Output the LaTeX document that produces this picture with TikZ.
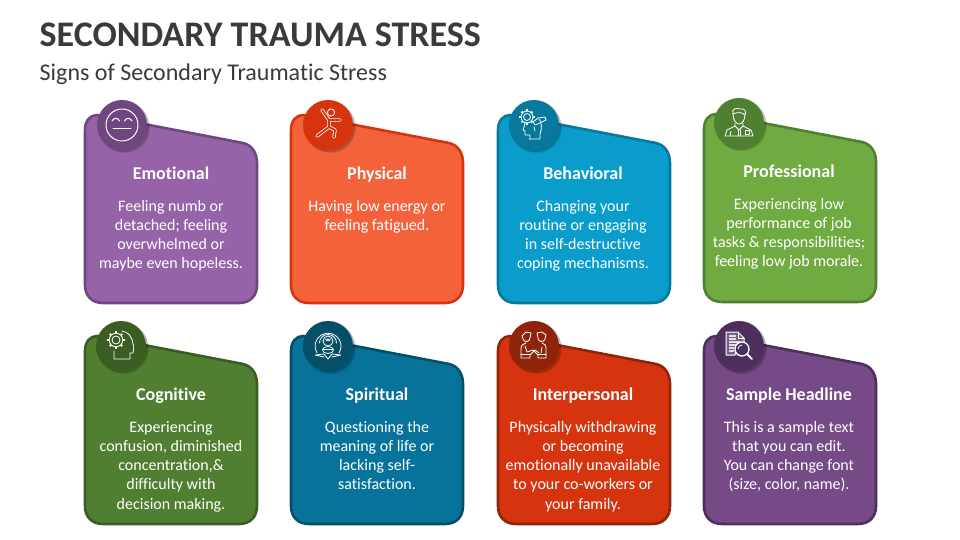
\documentclass[tikz,border=0pt]{standalone}
\usepackage{fontspec}
\setmainfont{Carlito}[Ligatures=NoCommon]
\usetikzlibrary{calc}
\definecolor{purA}{HTML}{9763A8}\definecolor{purB}{HTML}{6F4680}
\definecolor{oraA}{HTML}{F4623C}\definecolor{oraB}{HTML}{D5340F}
\definecolor{bluA}{HTML}{0A9DCB}\definecolor{bluB}{HTML}{08789C}
\definecolor{greA}{HTML}{6FAB40}\definecolor{greB}{HTML}{4F7F30}
\definecolor{dgrA}{HTML}{507F31}\definecolor{dgrB}{HTML}{3A5D22}
\definecolor{teaA}{HTML}{08739A}\definecolor{teaB}{HTML}{064F68}
\definecolor{redA}{HTML}{D5340F}\definecolor{redB}{HTML}{8E240A}
\definecolor{vioA}{HTML}{754A86}\definecolor{vioB}{HTML}{4C2F5C}
\definecolor{inkc}{HTML}{3A3A3A}
\tikzset{
  cardshape/.style={line width=2.6pt,line join=round},
  badge/.style={circle,minimum size=50pt,inner sep=0pt,outer sep=0pt},
  heading/.style={text=white,font=\fontsize{18}{21.6}\selectfont\bfseries,anchor=base},
  bodytext/.style={text=white,font=\fontsize{16}{19.2}\selectfont,align=center,anchor=north,inner sep=0pt},
  iconline/.style={draw=white,line width=.8pt,line cap=round,line join=round},
}
\newcommand{\cardbox}[4]{%
  \begin{scope}[shift={(#1,#2)}]
    \draw[cardshape,fill=#3,draw=#4] (0,15) .. controls (0,6) and (5,0) .. (12,0) -- (158,28)
      .. controls (167,30) and (172,38) .. (172,48) -- (172,170)
      .. controls (172,181) and (165,188) .. (154,188) -- (18,188)
      .. controls (7,188) and (0,181) .. (0,170) -- cycle;
  \end{scope}}
\newcommand{\badgeat}[4]{%
  \foreach \o/\r in {1/26,2/25.5,3/25}{\fill[black,opacity=.09] (#2+\o,#3+\o) circle (\r);}
  \node[badge,fill=#4] (#1) at (#2,#3) {};}
\newcommand{\gearicon}[3]{%
  \draw[iconline] (#1,#2) circle (#3*.5);
  \draw[iconline] (#1,#2) circle (#3*.85);
  \foreach \a in {0,45,...,315}{\draw[white,line width=1.8pt] ($(#1,#2)+(\a:#3*.85)$) -- ($(#1,#2)+(\a:#3*1.1)$);}}
\begin{document}
\begin{tikzpicture}[x=1pt,y=-1pt]
\useasboundingbox (0,0) rectangle (960,540);
\fill[white] (0,0) rectangle (960,540);
\node[anchor=base west,inner sep=0pt,text=inkc,font=\fontsize{36}{40}\selectfont\bfseries] (ttl) at (39.5,47) {SECONDARY TRAUMA STRESS};
\node[anchor=base west,inner sep=0pt,text=inkc,font=\fontsize{24}{28}\selectfont] (sub) at (39.5,81) {Signs of Secondary Traumatic Stress};

\cardbox{85}{115}{purA}{purB}
\cardbox{291}{115}{oraA}{oraB}
\cardbox{498}{115}{bluA}{bluB}
\cardbox{704}{114}{greA}{greB}
\cardbox{85}{336}{dgrA}{dgrB}
\cardbox{291}{336}{teaA}{teaB}
\cardbox{498}{336}{redA}{redB}
\cardbox{704}{336}{vioA}{vioB}

\badgeat{bEmo}{122}{125}{purB}
\badgeat{bPhy}{328}{125}{oraB}
\badgeat{bBeh}{534}{125}{bluB}
\badgeat{bPro}{739}{123}{greB}
\badgeat{bCog}{121}{346}{dgrB}
\badgeat{bSpi}{328}{346}{teaB}
\badgeat{bInt}{534}{346}{redB}
\badgeat{bSam}{739}{346}{vioB}

% Emotional
\begin{scope}[shift={(bEmo.center)}]
  \draw[iconline,line width=1pt] (0,0) circle (16);
  \draw[iconline,line width=1pt] (-10,-4) .. controls (-8,-7.5) and (-4,-7.5) .. (-2.5,-4);
  \draw[iconline,line width=1pt] (2.5,-4) .. controls (4,-7.5) and (8,-7.5) .. (10,-4);
  \draw[iconline,line width=1pt] (-9,4) -- (9,4);
\end{scope}
% Physical
\begin{scope}[shift={(bPhy.center)}]
  \draw[iconline] (3,-12.5) circle (3.6);
  \draw[white,line width=3.4pt,line cap=round,line join=round] (-6,-15) -- (1,-5) -- (12,-5);
  \draw[white,line width=3.4pt,line cap=round,line join=round] (1,-5) -- (1,2) -- (-11,11);
  \draw[white,line width=3.4pt,line cap=round,line join=round] (1,2) -- (7,5) -- (6,12);
  \draw[oraB,line width=1.8pt,line cap=round,line join=round] (-6,-15) -- (1,-5) -- (12,-5);
  \draw[oraB,line width=1.8pt,line cap=round,line join=round] (1,-5) -- (1,2) -- (-11,11);
  \draw[oraB,line width=1.8pt,line cap=round,line join=round] (1,2) -- (7,5) -- (6,12);
\end{scope}
% Behavioral
\begin{scope}[shift={(bBeh.center)}]
  \gearicon{-7}{-8}{7}
  \draw[iconline] (-5,14) -- (6,14) -- (6,9) .. controls (8,4) and (8,-3) .. (5,-6);
  \draw[iconline] (-9,-3) .. controls (-10,0) and (-9,2) .. (-11,5) -- (-9,6) -- (-9,10) -- (-4,10) -- (-4,14);
  \draw[iconline] (-1,-3) -- (4,-7) -- (11,-8) -- (12,-5) -- (6,-2) -- (1,0) -- cycle;
  \draw[iconline] (0,2) -- (1,6);
\end{scope}
% Professional
\begin{scope}[shift={(bPro.center)}]
  \draw[iconline] (-6,-9) .. controls (-8,-15) and (-2,-15) .. (1,-14) .. controls (5,-15) and (8,-12) .. (6,-8)
     .. controls (3,-11) and (-2,-11) .. (-6,-9) -- cycle;
  \draw[iconline] (-6,-9) .. controls (-6,-3) and (-3,1) .. (0,1) .. controls (3,1) and (6,-3) .. (6,-8);
  \draw[iconline] (-4,0) -- (-4,3) -- (-12,7) -- (-14,13) -- (14,13) -- (12,7) -- (4,3) -- (4,0);
  \draw[iconline] (-4,3) -- (0,7) -- (4,3);
  \draw[iconline] (-1,7) -- (-1,13) (1,7) -- (1,13);
  \draw[iconline] (-9,13) -- (-8,8);
  \draw[iconline] (6,7) rectangle (10,11);
\end{scope}
% Cognitive
\begin{scope}[shift={(bCog.center)}]
  \gearicon{-5}{-6}{8}
  \draw[iconline] (-7,5) -- (-7,13) -- (9,13) -- (9,7) -- (12,7) .. controls (12,3) and (14,2) .. (12,-2)
     .. controls (11,-10) and (7,-14) .. (1,-15);
\end{scope}
% Spiritual
\begin{scope}[shift={(bSpi.center)}]
  \draw[iconline] (-11,7) arc[start angle=148,end angle=392,radius=13];
  \draw[iconline] (-8.5,-3) arc[start angle=180,end angle=360,radius=8.5];
  \draw[iconline] (0,-5) circle (5);
  \draw[iconline] (-2.5,-7) -- (-1,-5) -- (0,-7.5) -- (1,-5) -- (2.5,-7);
  \draw[iconline] (0,4) ellipse (5.5 and 3.5);
  \draw[iconline] (-5,3.5) -- (5,3.5);
  \draw[iconline] (-13,9) -- (-4,8) -- (0,13) -- (4,8) -- (13,9) -- (4,11) (-13,9) -- (-4,11);
\end{scope}
% Interpersonal
\begin{scope}[shift={(bInt.center)}]
  \draw[iconline] (-12,-10) -- (-8,-14) -- (-3,-13) -- (-4,-8) .. controls (-4,-4) and (-10,-3) .. (-11,-7) -- cycle;
  \draw[iconline] (3,-13) -- (8,-14) -- (12,-11) -- (11,-7) .. controls (10,-3) and (4,-4) .. (4,-8) -- cycle;
  \draw[iconline] (-8,-3) .. controls (-11,-2) and (-13,-1) .. (-13,3) -- (-13,12) -- (-4,12) -- (-4,9) -- (1,4) -- (5,7);
  \draw[iconline] (8,-3) .. controls (11,-2) and (12,-1) .. (12,3) -- (12,12) -- (4,12) -- (4,9) -- (-1,4) -- (-7,6) -- (-9,0);
  \draw[iconline] (-13,8) -- (-4,8) (4,8) -- (12,8);
  \draw[iconline] (7,7) -- (8,1);
\end{scope}
% Sample
\begin{scope}[shift={(bSam.center)}]
  \draw[iconline,line width=1pt,fill=white,fill opacity=.25] (-13,-14) -- (-1,-14) -- (5,-8) -- (5,-2) -- (-2,3) -- (-4,9) -- (-13,9) -- cycle;
  \draw[iconline] (-1,-14) -- (-1,-8) -- (5,-8);
  \draw[white,line width=1.2pt,opacity=.8] (-10,-10) -- (-3,-10) (-10,-7) -- (-3,-7) (-10,-4) -- (1,-4) (-10,-1) -- (-3,-1) (-10,2) -- (-5,2) (-10,5) -- (-5,5);
  \draw[iconline,line width=1.3pt,fill=vioB] (3,3) circle (7);
  \draw[white,line width=.8pt] (-1,3) arc[start angle=180,end angle=270,radius=4];
  \draw[white,line width=2pt,line cap=round] (8.5,8.5) -- (13,13);
\end{scope}

% headings
\node[heading] (h1) at (171,179) {Emotional};
\node[heading] (h2) at (377,179) {Physical};
\node[heading] (h3) at (583,179) {Behavioral};
\node[heading] (h4) at (789,178) {Professional};
\node[heading] (h5) at (171,400) {Cognitive};
\node[heading] (h6) at (377,400) {Spiritual};
\node[heading] (h7) at (583,400) {Interpersonal};
\node[heading] (h8) at (789,400) {Sample Headline};

% bodies
\node[bodytext] (t1) at (171,200) {Feeling numb or\\detached; feeling\\overwhelmed or\\maybe even hopeless.};
\node[bodytext] (t2) at (377,200) {Having low energy or\\feeling fatigued.};
\node[bodytext] (t3) at (583,200) {Changing your\\routine or engaging\\in self-destructive\\coping mechanisms.};
\node[bodytext] (t4) at (789,198) {Experiencing low\\performance of job\\tasks \& responsibilities;\\feeling low job morale.};
\node[bodytext] (t5) at (171,421) {Experiencing\\confusion, diminished\\concentration,\&\\difficulty with\\decision making.};
\node[bodytext] (t6) at (377,421) {Questioning the\\meaning of life or\\lacking self-\\satisfaction.};
\node[bodytext] (t7) at (583,421) {Physically withdrawing\\or becoming\\emotionally unavailable\\to your co-workers or\\your family.};
\node[bodytext] (t8) at (789,421) {This is a sample text\\that you can edit.\\You can change font\\(size, color, name).};
\end{tikzpicture}
\end{document}
